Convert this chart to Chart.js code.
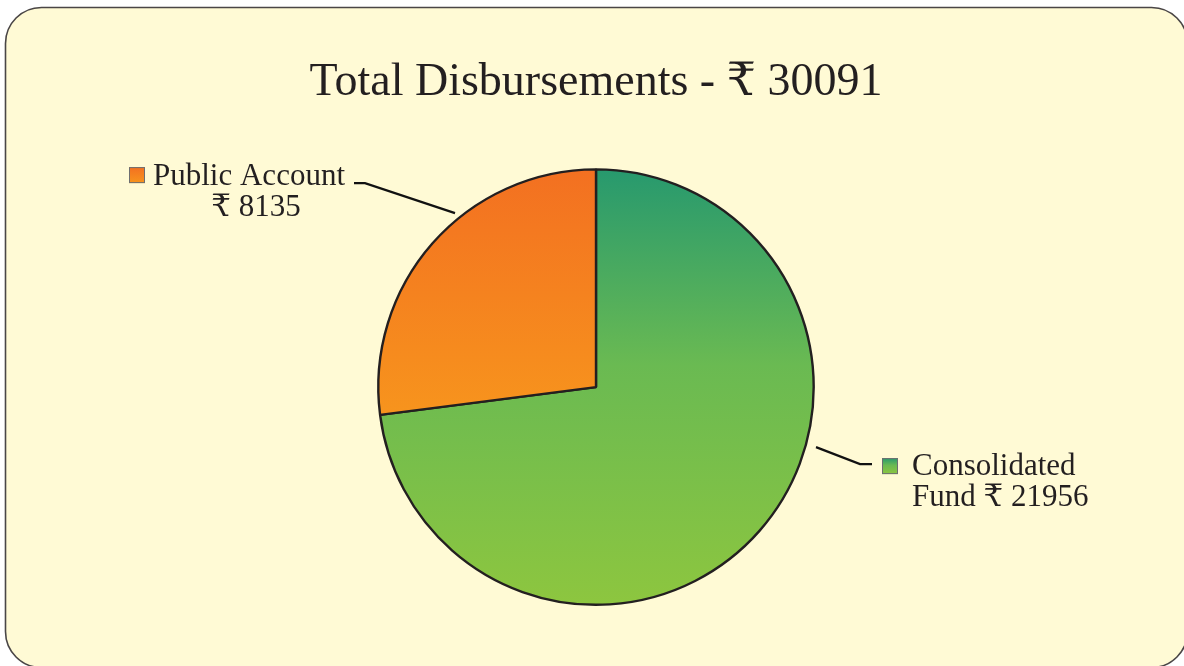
<!DOCTYPE html>
<html><head><meta charset="utf-8">
<script src="https://cdn.jsdelivr.net/npm/chart.js@4"></script>
<style>html,body{margin:0;padding:0;background:#fff;overflow:hidden}#wrap{width:1184px;height:666px;position:relative}</style>
</head><body><div id="wrap"><canvas id="c"></canvas></div>
<script>
const categories = ['Consolidated Fund', 'Public Account'];
const values = [21956, 8135];
const totalValue = 30091;
const titleText = 'Total Disbursements - \u20B9 ' + totalValue;
const labelLines = [
  ['Consolidated', 'Fund \u20B9 ' + values[0]],
  ['Public Account', '\u20B9 ' + values[1]]
];
const gradientStops = [
  [[0, '#27996E'], [0.45, '#6ABA52'], [1, '#8DC63F']],
  [[0, '#F37021'], [1, '#F7941D']]
];
const FONT = '"Liberation Serif", "DejaVu Serif", serif';
const TEXT = '#231f20';

function arcYRange(cy, r, a0, a1) {
  let minY = cy, maxY = cy;
  const n = 90;
  for (let i = 0; i <= n; i++) {
    const a = a0 + (a1 - a0) * i / n;
    const y = cy + r * Math.sin(a);
    minY = Math.min(minY, y); maxY = Math.max(maxY, y);
  }
  return [minY, maxY];
}

function sliceFill(ctx) {
  const chart = ctx.chart;
  const ca = chart.chartArea;
  const i = ctx.dataIndex;
  const stops = gradientStops[i];
  if (!ca) return stops[0][1];
  const cx = (ca.left + ca.right) / 2, cy = (ca.top + ca.bottom) / 2;
  const r = (Math.min(ca.right - ca.left, ca.bottom - ca.top) - 2) / 2;
  const tot = values.reduce((a, b) => a + b, 0);
  let start = -Math.PI / 2;
  for (let k = 0; k < i; k++) start += values[k] / tot * Math.PI * 2;
  const end = start + values[i] / tot * Math.PI * 2;
  const [y0, y1] = arcYRange(cy, r, start, end);
  const g = chart.ctx.createLinearGradient(0, y0, 0, y1);
  stops.forEach(s => g.addColorStop(s[0], s[1]));
  return g;
}

const frame = {
  id: 'frame',
  beforeDraw(chart) {
    const c = chart.ctx;
    c.save();
    c.fillStyle = '#ffffff';
    c.fillRect(0, 0, chart.width, chart.height);
    const x = 5.5, y = 7.5, w = 1182, h = 660, R = 36;
    c.beginPath();
    c.moveTo(x + R, y);
    c.arcTo(x + w, y, x + w, y + h, R);
    c.arcTo(x + w, y + h, x, y + h, R);
    c.arcTo(x, y + h, x, y, R);
    c.arcTo(x, y, x + w, y, R);
    c.closePath();
    c.fillStyle = '#FFFAD5';
    c.fill();
    c.lineWidth = 1.6;
    c.strokeStyle = '#4a4646';
    c.stroke();
    c.restore();
  }
};

function square(c, x, y, stops) {
  const g = c.createLinearGradient(0, y, 0, y + 16);
  stops.forEach(s => g.addColorStop(s[0], s[1]));
  c.fillStyle = g;
  c.fillRect(x, y, 16, 16);
  c.lineWidth = 1;
  c.strokeStyle = '#6d6e71';
  c.strokeRect(x + 0.5, y + 0.5, 15, 15);
}

const labels = {
  id: 'sliceLabels',
  afterDraw(chart) {
    const arc = chart.getDatasetMeta(0).data[0];
    if (!arc) return;
    const cx = arc.x, cy = arc.y;
    const c = chart.ctx;
    c.save();
    c.strokeStyle = '#111';
    c.lineWidth = 2.2;
    c.lineJoin = 'miter';
    // Public Account leader
    c.beginPath();
    c.moveTo(cx - 141, cy - 174);
    c.lineTo(cx - 231, cy - 204);
    c.lineTo(cx - 242, cy - 204);
    c.stroke();
    // Consolidated Fund leader
    c.beginPath();
    c.moveTo(cx + 220, cy + 60);
    c.lineTo(cx + 264, cy + 77);
    c.lineTo(cx + 276, cy + 77);
    c.stroke();

    square(c, cx - 467, cy - 220, gradientStops[1]);
    square(c, cx + 286, cy + 71, gradientStops[0]);

    c.fillStyle = TEXT;
    c.font = '31px ' + FONT;
    c.textBaseline = 'alphabetic';
    c.textAlign = 'center';
    c.fillText(labelLines[1][0], cx - 347, cy - 202);
    c.fillText(labelLines[1][1], cx - 340, cy - 171);
    c.textAlign = 'left';
    c.fillText(labelLines[0][0], cx + 316, cy + 88);
    c.fillText(labelLines[0][1], cx + 316, cy + 119);
    c.restore();
  }
};

new Chart(document.getElementById('c'), {
  type: 'pie',
  data: {
    labels: categories,
    datasets: [{
      data: values,
      backgroundColor: sliceFill,
      borderColor: '#231f20',
      borderWidth: 2.4,
      borderAlign: 'center'
    }]
  },
  options: {
    responsive: true,
    maintainAspectRatio: false,
    animation: false,
    layout: { padding: { left: 8, right: 0, bottom: 60, top: 0 } },
    plugins: {
      legend: { display: false },
      tooltip: { enabled: false },
      title: {
        display: true,
        text: titleText,
        color: TEXT,
        font: { family: FONT, size: 46, weight: 'normal', lineHeight: 1.2 },
        padding: { top: 55, bottom: 58 }
      }
    }
  },
  plugins: [frame, labels]
});
</script>
</body></html>
